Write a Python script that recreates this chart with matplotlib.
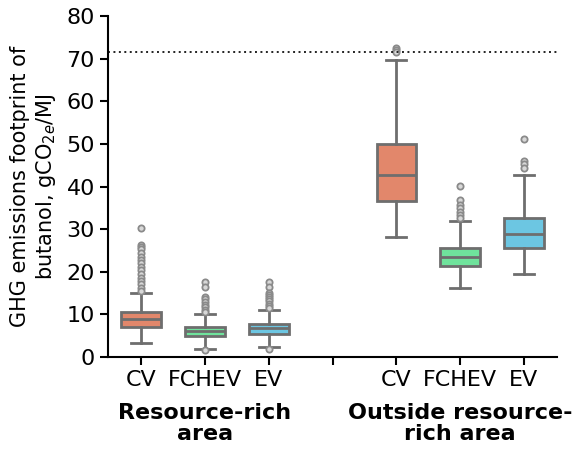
import matplotlib.pyplot as plt

# box statistics (gCO2e/MJ)
labels = ['CV', 'FCHEV', 'EV', '', 'CV', 'FCHEV', 'EV']
colors = ['#E2876B', '#6FE39C', '#6CC6E2', '#6E6E6E', '#E2876B', '#6FE39C', '#6CC6E2']
whislo = [3.2, 1.9, 2.3, 0.0, 28.1, 16.2, 19.5]
q1 = [7.1, 4.8, 5.4, 0.0, 36.7, 21.3, 25.5]
med = [8.9, 6.1, 6.7, 0.0, 42.7, 23.4, 28.9]
q3 = [10.5, 7.0, 7.7, 0.0, 50.1, 25.6, 32.5]
whishi = [15.0, 10.1, 11.0, 0.0, 69.8, 31.8, 42.8]
fliers = [
    [30.3, 26.2, 25.8, 25.3, 24.5, 23.5, 22.8, 22.0, 21.0, 20.3, 19.5, 18.6,
     17.8, 17.0, 16.2, 15.5],
    [17.5, 16.3, 14.0, 13.5, 12.8, 12.2, 11.6, 11.0, 10.5, 1.5],
    [17.5, 16.5, 15.0, 14.5, 14.0, 13.5, 13.0, 12.5, 12.0, 11.5, 1.9],
    [],
    [72.5, 72.0, 71.5],
    [40.1, 36.8, 35.7, 34.9, 34.1, 33.3, 32.5],
    [51.1, 46.0, 45.2, 44.3],
]
threshold = 71.5
group_labels = ['Resource-rich\narea', 'Outside resource-\nrich area']

stats = []
for i in range(len(labels)):
    stats.append({'whislo': whislo[i], 'q1': q1[i], 'med': med[i], 'q3': q3[i],
                  'whishi': whishi[i], 'fliers': fliers[i]})

fig = plt.figure(figsize=(5.84, 4.5), dpi=100)
ax = fig.add_axes([0.185, 0.207, 0.769, 0.757])

edge = '#6E6E6E'
bp = ax.bxp(stats, positions=range(len(labels)), widths=0.62, patch_artist=True,
            showfliers=True,
            boxprops=dict(edgecolor=edge, linewidth=2.0),
            medianprops=dict(color=edge, linewidth=2.0),
            whiskerprops=dict(color=edge, linewidth=2.0),
            capprops=dict(color=edge, linewidth=2.0),
            flierprops=dict(marker='o', markersize=4.5, markerfacecolor='#D8D8D8',
                            markeredgecolor='#8A8A8A', markeredgewidth=1.3))
for patch, c in zip(bp['boxes'], colors):
    patch.set_facecolor(c)

ax.axhline(threshold, color='#222222', linestyle=(0, (1, 1.8)), linewidth=1.4)

ax.set_xlim(-0.52, 6.52)
ax.set_ylim(0, 80)
ax.set_yticks(range(0, 81, 10))
ax.set_xticks(range(len(labels)))
ax.set_xticklabels(labels)
ax.tick_params(labelsize=16, width=1.5, length=6)
for s in ['top', 'right']:
    ax.spines[s].set_visible(False)
for s in ['left', 'bottom']:
    ax.spines[s].set_linewidth(1.5)

ax.set_ylabel('GHG emissions footprint of\nbutanol, gCO$_{2e}$/MJ', fontsize=15,
              labelpad=6)

ax.text(1, -0.135, group_labels[0], transform=ax.get_xaxis_transform(),
        ha='center', va='top', fontsize=16, fontweight='bold', linespacing=1.05)
ax.text(5, -0.135, group_labels[1], transform=ax.get_xaxis_transform(),
        ha='center', va='top', fontsize=16, fontweight='bold', linespacing=1.05)

fig.savefig('out.png')
